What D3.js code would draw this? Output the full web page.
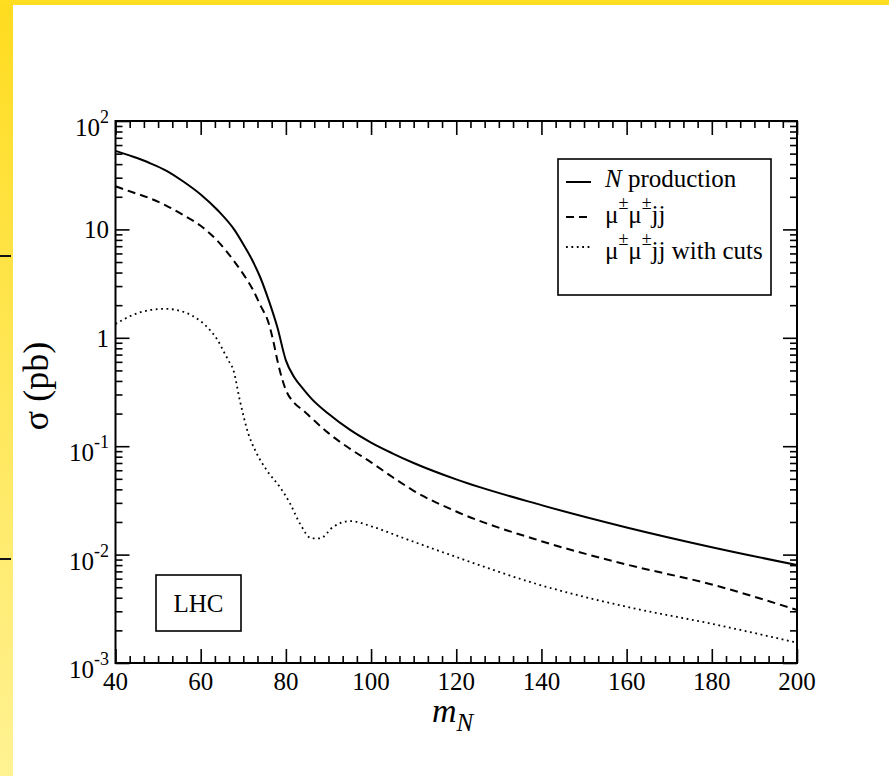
<!DOCTYPE html>
<html><head><meta charset="utf-8">
<script src="https://cdnjs.cloudflare.com/ajax/libs/d3/7.8.5/d3.min.js"></script>
<style>
html,body{margin:0;padding:0;background:#fff;}
svg{display:block;}
</style></head>
<body>
<script>
// ---- data ----
const massN   = [40,44,48,52,56,60,64,68,70,72,74,76,78,80,82,84,86,90,95,100,105,110,120,140,160,180,200];
const sigmaN  = [53,47,41,34.7,27.5,21,15,9.8,7.3,5.3,3.6,2.2,1.25,0.62,0.43,0.34,0.275,0.199,0.142,0.108,0.086,0.070,0.0494,0.0286,0.0178,0.0117,0.0080];
const massLL  = [40,44,48,52,56,60,64,68,70,72,74,76,77,78,80,82,84,86,90,95,100,105,110,120,140,160,180,200];
const sigmaLL = [25,22,19.4,16.5,13.5,10.8,7.8,5.0,3.87,2.9,2.0,1.35,0.95,0.62,0.33,0.25,0.215,0.182,0.132,0.095,0.071,0.052,0.0388,0.025,0.0133,0.0081,0.0053,0.00308];
const massCut = [40,44,48,51.6,55,58,60,62,64,65.3,66.5,67.7,69.2,71.2,72.8,75.5,78.6,81,83.3,86.1,88,91.1,95.1,100.5,106.8,117.8,140,160,180,200];
const sigmaCut= [1.34,1.62,1.80,1.85,1.78,1.6,1.42,1.2,0.95,0.76,0.62,0.50,0.264,0.13,0.0915,0.060,0.042,0.0295,0.0193,0.0141,0.0141,0.018,0.0204,0.018,0.0146,0.0102,0.0052,0.0033,0.0023,0.00154];
const xMajor  = [40,60,80,100,120,140,160,180,200];
const yMajorExp = [2,1,0,-1,-2,-3];
const legendLabels = ["N production","μ±μ±jj","μ±μ±jj with cuts"];

const W = 889, H = 776;
const L = 115.5, R = 797, T = 121, B = 663;
const FONT = "'Liberation Serif', 'Times New Roman', Tinos, 'Nimbus Roman', 'DejaVu Serif', serif";

const svg = d3.select("body").append("svg").attr("width",W).attr("height",H)
  .attr("font-family",FONT).style("font-family",FONT);

// frame decoration (yellow strips)
const defs = svg.append("defs");
const g1 = defs.append("linearGradient").attr("id","yl").attr("x1",0).attr("y1",0).attr("x2",0).attr("y2",1);
g1.append("stop").attr("offset","0%").attr("stop-color","#ffdc1f");
g1.append("stop").attr("offset","100%").attr("stop-color","#fff292");
svg.append("rect").attr("x",0).attr("y",0).attr("width",13).attr("height",H).attr("fill","url(#yl)");
svg.append("rect").attr("x",0).attr("y",0).attr("width",W).attr("height",5).attr("fill","#ffde22");
[256,559].forEach(yy=>svg.append("rect").attr("x",0).attr("y",yy-1).attr("width",11).attr("height",2).attr("fill","#111"));

const x = d3.scaleLinear().domain([40,200]).range([L,R]);
const y = d3.scaleLog().domain([1e-3,1e2]).range([B,T]);

// tick values
const xMinor = [];
for(let i=0;i<xMajor.length-1;i++) for(let k=1;k<6;k++) xMinor.push(xMajor[i]+k*20/6);
const yMinor = [];
for(let e=-3;e<2;e++) for(let k=2;k<10;k++) yMinor.push(k*Math.pow(10,e));
const yMajor = yMajorExp.map(e=>Math.pow(10,e));

const tickStyle = g => { g.select(".domain").remove(); g.selectAll("line").attr("stroke","#000").attr("stroke-width",1.6); g.selectAll("text").remove(); };

svg.append("g").attr("transform",`translate(0,${B})`).call(d3.axisBottom(x).tickValues(xMajor).tickSize(-14)).call(tickStyle);
svg.append("g").attr("transform",`translate(0,${B})`).call(d3.axisBottom(x).tickValues(xMinor).tickSize(-7)).call(tickStyle);
svg.append("g").attr("transform",`translate(0,${T})`).call(d3.axisTop(x).tickValues(xMajor).tickSize(-14)).call(tickStyle);
svg.append("g").attr("transform",`translate(0,${T})`).call(d3.axisTop(x).tickValues(xMinor).tickSize(-7)).call(tickStyle);
svg.append("g").attr("transform",`translate(${L},0)`).call(d3.axisLeft(y).tickValues(yMajor).tickSize(-14)).call(tickStyle);
svg.append("g").attr("transform",`translate(${L},0)`).call(d3.axisLeft(y).tickValues(yMinor).tickSize(-7)).call(tickStyle);
svg.append("g").attr("transform",`translate(${R},0)`).call(d3.axisRight(y).tickValues(yMajor).tickSize(-14)).call(tickStyle);
svg.append("g").attr("transform",`translate(${R},0)`).call(d3.axisRight(y).tickValues(yMinor).tickSize(-7)).call(tickStyle);

// frame
svg.append("rect").attr("x",L).attr("y",T).attr("width",R-L).attr("height",B-T)
  .attr("fill","none").attr("stroke","#000").attr("stroke-width",2);

// x tick labels
svg.append("g").selectAll("text").data(xMajor).join("text")
  .attr("x",d=>x(d)).attr("y",B+27).attr("text-anchor","middle")
  .attr("font-size",25).text(d=>d);

// y tick labels
yMajorExp.forEach(e=>{
  const v = Math.pow(10,e);
  const t = svg.append("text").attr("x",109).attr("text-anchor","end").attr("font-size",25);
  if(e===0||e===1){
    t.attr("y",y(v)+9).text(e===0?"1":"10");
  } else {
    t.attr("y",y(v)+15);
    t.append("tspan").text("10");
    t.append("tspan").attr("font-size",18).attr("dy",-13).text(e<0?"-"+(-e):""+e);
  }
});

// axis titles
svg.append("text").attr("transform","translate(48,386) rotate(-90)").attr("text-anchor","middle")
  .attr("font-size",36).text("σ (pb)");
const xt = svg.append("text").attr("x",432).attr("y",722).attr("font-style","italic").attr("font-size",34);
xt.append("tspan").text("m");
xt.append("tspan").attr("font-size",25).attr("dy",9).text("N");

// curves
const line = d3.line().x(d=>x(d[0])).y(d=>y(d[1])).curve(d3.curveMonotoneX);
const gC = svg.append("g");
gC.append("path").attr("d",line(d3.zip(massN,sigmaN))).attr("fill","none").attr("stroke","#000").attr("stroke-width",2);
gC.append("path").attr("d",line(d3.zip(massLL,sigmaLL))).attr("fill","none").attr("stroke","#000").attr("stroke-width",2).attr("stroke-dasharray","8,5");
gC.append("path").attr("d",line(d3.zip(massCut,sigmaCut))).attr("fill","none").attr("stroke","#000").attr("stroke-width",1.8).attr("stroke-dasharray","1.8,3.6");

// legend
svg.append("rect").attr("x",558).attr("y",159).attr("width",213).attr("height",136)
  .attr("fill","#fff").attr("stroke","#000").attr("stroke-width",1.6);
const dashes = [null,"8,5","1.8,3.6"];
const rowsY = [187,223,259];
const lineY = [182,217,247];
legendLabels.forEach((lab,i)=>{
  const ln = svg.append("line").attr("x1",566).attr("x2",591).attr("y1",lineY[i]).attr("y2",lineY[i])
    .attr("stroke","#000").attr("stroke-width",i===2?1.8:2);
  if(dashes[i]) ln.attr("stroke-dasharray",dashes[i]);
  const t = svg.append("text").attr("x",605).attr("y",rowsY[i]).attr("font-size",25);
  if(i===0){
    t.append("tspan").attr("font-style","italic").text("N");
    t.append("tspan").text(" production");
  } else {
    const parts = lab.split("±");
    t.append("tspan").text(parts[0]);
    t.append("tspan").attr("font-size",18).attr("dy",-14).text("±");
    t.append("tspan").attr("dy",14).text(parts[1]);
    t.append("tspan").attr("font-size",18).attr("dy",-14).text("±");
    t.append("tspan").attr("dy",14).text(parts[2]);
  }
});

// LHC label
svg.append("rect").attr("x",156).attr("y",575).attr("width",85).attr("height",56)
  .attr("fill","#fff").attr("stroke","#000").attr("stroke-width",1.6);
svg.append("text").attr("x",198.5).attr("y",612).attr("text-anchor","middle").attr("font-size",25).text("LHC");
</script>
</body></html>
